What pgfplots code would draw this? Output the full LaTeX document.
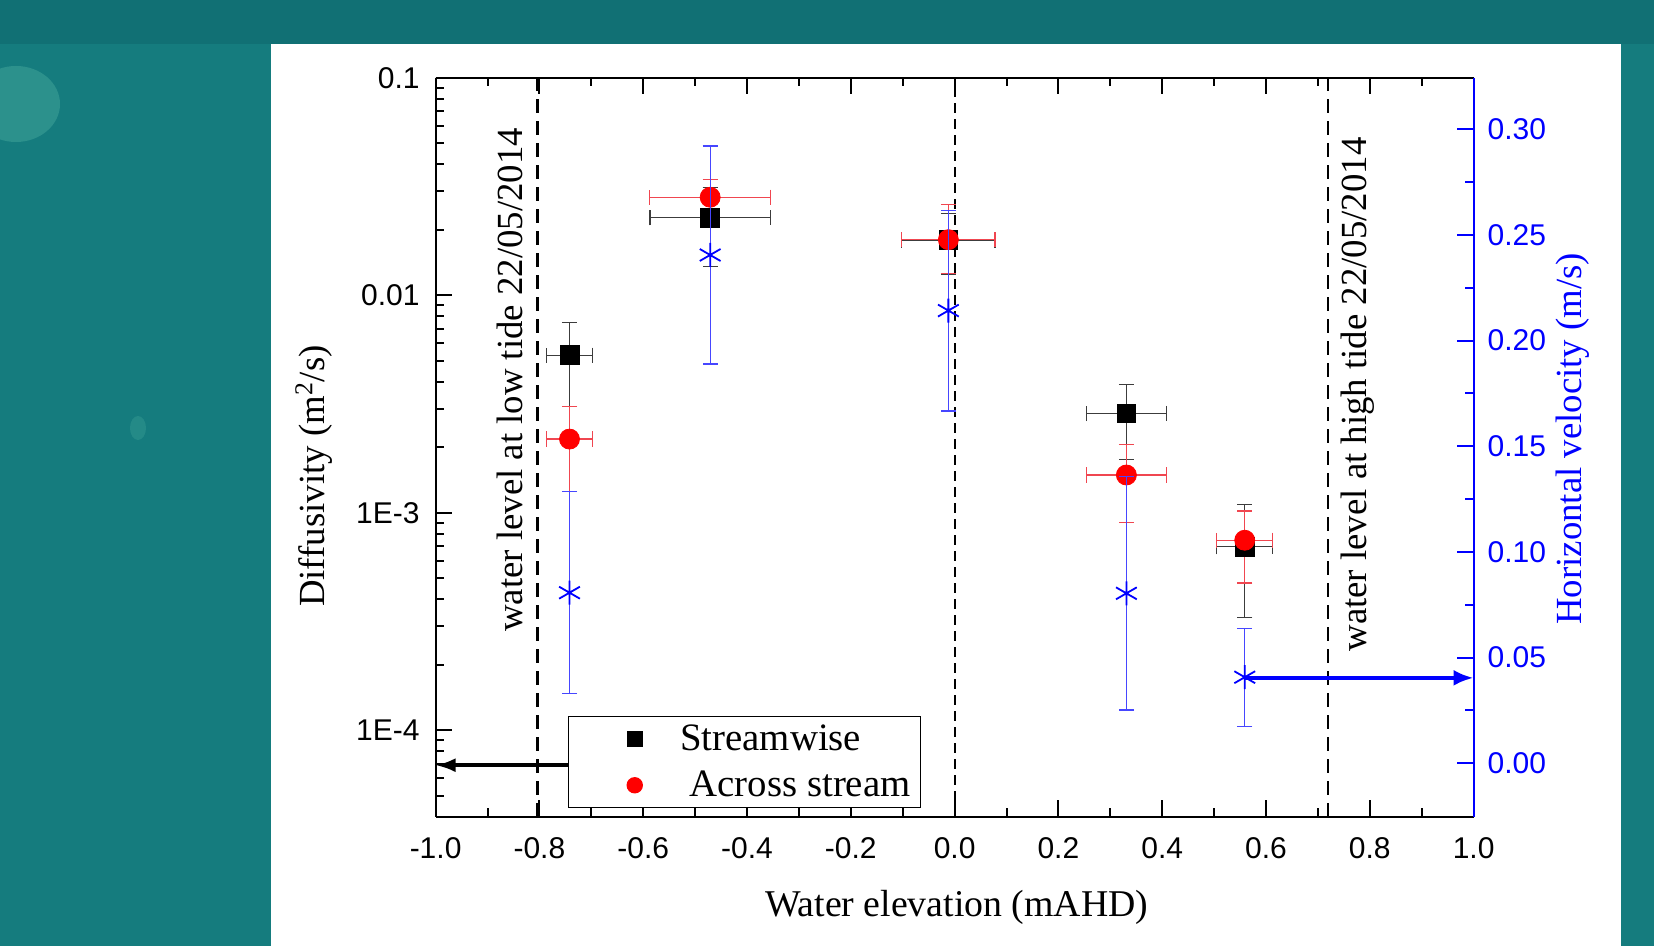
\documentclass[border=0pt]{standalone}
\usepackage{fontspec}
\setmainfont{Liberation Serif}
\newfontfamily\arial{Liberation Sans}
\usepackage{pgfplots}
\pgfplotsset{compat=1.18}
\usetikzlibrary{arrows.meta}
\definecolor{bgteal}{RGB}{21,124,126}
\definecolor{bgteal2}{RGB}{17,112,116}
\definecolor{blob}{RGB}{60,160,150}
\definecolor{errred}{RGB}{240,70,80}
\definecolor{errblack}{RGB}{60,60,60}
\definecolor{errblue}{RGB}{70,70,255}
\newcommand{\lblfont}{\fontsize{18.4}{22}\selectfont}
\newcommand{\xlblfont}{\fontsize{18.9}{22}\selectfont}
\newcommand{\legfont}{\fontsize{19.4}{22}\selectfont}
\newcommand{\tickfont}{\arial\fontsize{15}{18}\selectfont}
\begin{document}
\begin{tikzpicture}
\useasboundingbox (0,0) rectangle (827pt,473pt);
\fill[bgteal] (0,0) rectangle (827pt,473pt);
\fill[bgteal2] (0,451pt) rectangle (827pt,473pt);
\fill[blob, opacity=0.6] (8pt,421pt) ellipse (22pt and 19pt);
\fill[blob, opacity=0.4] (69pt,259pt) ellipse (4pt and 6pt);
\fill[white] (135.5pt,0) rectangle (810.6pt,451pt);
\begin{axis}[
  at={(217.8pt,64.65pt)}, anchor=south west,
  scale only axis, width=519pt, height=369.5pt,
  xmin=-1, xmax=1, ymode=log, ymin=4e-5, ymax=0.1,
  axis y line*=left,
  axis line style={line width=1.1pt, black},
  tick align=inside,
  major tick length=8.3pt, minor tick length=4.2pt,
  tick style={line width=1pt, black},
  minor tick style={line width=1pt, black},
  xtick={-1,-0.8,-0.6,-0.4,-0.2,0,0.2,0.4,0.6,0.8,1},
  xticklabels={-1.0,-0.8,-0.6,-0.4,-0.2,0.0,0.2,0.4,0.6,0.8,1.0},
  minor xtick={-0.9,-0.7,-0.5,-0.3,-0.1,0.1,0.3,0.5,0.7,0.9},
  ytick={1e-4,1e-3,1e-2,1e-1},
  yticklabels={1E-4,1E-3,0.01,0.1},
  minor ytick={5e-5,6e-5,7e-5,8e-5,9e-5,2e-4,3e-4,4e-4,5e-4,6e-4,7e-4,8e-4,9e-4,2e-3,3e-3,4e-3,5e-3,6e-3,7e-3,8e-3,9e-3,0.02,0.03,0.04,0.05,0.06,0.07,0.08,0.09},
  xticklabel style={font=\tickfont, yshift=-7pt},
  yticklabel style={font=\tickfont, xshift=-4.5pt},
  xlabel={Water elevation (mAHD)},
  xlabel style={font=\xlblfont, at={(rel axis cs:0.502,-0.123)}, anchor=center},
  ylabel={Diffusivity (m\textsuperscript{2}/s)},
  ylabel style={font=\lblfont, at={(rel axis cs:-0.117,0.461)}, anchor=center},
  clip=false,
  legend style={at={(rel axis cs:0.1276,0.0114)}, anchor=south west,
    draw=black, line width=0.7pt, inner xsep=3pt, inner ysep=2pt,
    font=\legfont, row sep=4.9pt, cells={anchor=west}, nodes={inner sep=2pt}},
  legend image code/.code={\path[draw=none,fill=none] (-30pt,-5pt) rectangle (20.7pt,5pt);
    \draw[#1, mark size=3.75pt] plot coordinates {(0pt,0pt)};},
]
% reference lines
\addplot[forget plot, black, line width=1.2pt, dash pattern=on 7pt off 4pt] coordinates {(-0.804,4e-5) (-0.804,0.1)};
\addplot[forget plot, black, line width=0.9pt, dash pattern=on 4.7pt off 3.3pt] coordinates {(0,4e-5) (0,0.1)};
\addplot[forget plot, black, line width=1.2pt, dash pattern=on 7pt off 4pt] coordinates {(0.72,4e-5) (0.72,0.1)};
% Streamwise
\addplot[only marks, mark=square*, mark size=4.7pt, black,
  error bars/.cd, x dir=both, x explicit, y dir=both, y explicit,
  error bar style={line width=0.6pt, errblack},
  error mark options={rotate=90, mark size=3.8pt, line width=0.6pt, errblack}]
  table[x=x, y=y, x error=ex, y error plus=eyp, y error minus=eym] {
x       y         ex     eyp       eym
-0.742  0.0053    0.045  0.00216   0.00221
-0.471  0.0227    0.116  0.0086    0.0092
-0.012  0.0179    0.090  0.0059    0.0054
0.331   0.00286   0.077  0.00104   0.0011
0.559   0.000697  0.054  0.000397  0.000367
};
\addlegendentry{Streamwise}
% Across stream
\addplot[only marks, mark=*, mark size=5pt, red,
  error bars/.cd, x dir=both, x explicit, y dir=both, y explicit,
  error bar style={line width=0.6pt, errred},
  error mark options={rotate=90, mark size=3.8pt, line width=0.6pt, errred}]
  table[x=x, y=y, x error=ex, y error plus=eyp, y error minus=eym] {
x       y         ex     eyp       eym
-0.742  0.00218   0.045  0.00091   0.00093
-0.471  0.0282    0.117  0.0059    0.0063
-0.012  0.0180    0.090  0.0082    0.0054
0.331   0.00149   0.077  0.00057   0.00059
0.559   0.000747  0.054  0.00027   0.000272
};
\addlegendentry{\hspace{4.8pt}Across stream}
\draw[black, line width=1.8pt, -{Latex[length=10pt,width=7pt]}] (axis cs:-0.745,6.9e-5) -- (axis cs:-1,6.9e-5);
\node[rotate=90, font=\lblfont] at (rel axis cs:0.0712,0.591) {water level at low tide 22/05/2014};
\node[rotate=90, font=\lblfont] at (rel axis cs:0.888,0.5713) {water level at high tide 22/05/2014};
\end{axis}
\begin{axis}[
  at={(217.8pt,64.65pt)}, anchor=south west,
  scale only axis, width=519pt, height=369.5pt,
  xmin=-1, xmax=1, ymin=-0.0253, ymax=0.3244,
  axis x line=none, axis y line*=right,
  y axis line style={line width=1.1pt, blue},
  tick align=inside,
  major tick length=8.3pt, minor tick length=4.2pt,
  ytick={0,0.05,0.1,0.15,0.2,0.25,0.3},
  yticklabels={0.00,0.05,0.10,0.15,0.20,0.25,0.30},
  minor ytick={0.025,0.075,0.125,0.175,0.225,0.275},
  ytick style={line width=1pt, blue},
  minor y tick style={line width=1pt, blue},
  yticklabel style={font=\tickfont, blue, xshift=3.5pt},
  ylabel={Horizontal velocity (m/s)},
  ylabel style={font=\lblfont, blue, at={(rel axis cs:1.0955,0.5114)}, anchor=center},
  clip=false,
]
\addplot[only marks, mark=asterisk, mark size=6pt, blue, mark options={line width=0.9pt},
  error bars/.cd, y dir=both, y explicit,
  error bar style={line width=0.6pt, errblue},
  error mark options={rotate=90, mark size=3.8pt, line width=0.6pt, errblue}]
  table[x=x, y=y, y error=ey] {
x       y       ey
-0.742  0.0807  0.0477
-0.471  0.2405  0.0516
-0.012  0.2142  0.0475
0.331   0.0804  0.0552
0.559   0.0407  0.0232
};
\draw[blue, line width=2pt, -{Latex[length=10pt,width=8pt]}] (axis cs:0.559,0.0404) -- (axis cs:1.0,0.0404);
\end{axis}
\end{tikzpicture}
\end{document}
